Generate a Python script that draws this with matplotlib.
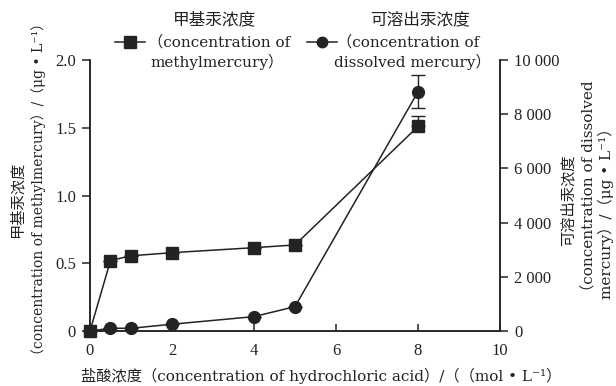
import matplotlib.pyplot as plt
from matplotlib.lines import Line2D
from matplotlib.ticker import FuncFormatter

plt.rcParams['font.family'] = ['DejaVu Serif', 'Noto Sans CJK SC', 'DejaVu Sans']

# HCl concentration (mol/L)
hcl = [0, 0.5, 1, 2, 4, 5, 8]
# methylmercury (ug/L), left axis
mehg = [0, 0.52, 0.555, 0.578, 0.615, 0.635, 1.51]
mehg_err_lo = [0, 0, 0, 0, 0, 0, 0]
mehg_err_hi = [0, 0, 0, 0, 0, 0, 0.08]
# dissolved mercury (ug/L), right axis
dhg = [0, 100, 100, 250, 530, 900, 8830]
dhg_err = [0, 0, 0, 0, 0, 0, 610]

xticks = [0, 2, 4, 6, 8, 10]
left_ticks = [0, 0.5, 1.0, 1.5, 2.0]
left_labels = ['0', '0.5', '1.0', '1.5', '2.0']
right_ticks = [0, 2000, 4000, 6000, 8000, 10000]

ink = '#232323'
fs = 11
tick_font = ['Liberation Serif', 'DejaVu Serif']

fig = plt.figure(figsize=(6.16, 3.86), dpi=100)
ax = fig.add_axes([0.1461, 0.1425, 0.6656, 0.702])
ax2 = ax.twinx()

ax2.errorbar(hcl, dhg, yerr=dhg_err, color=ink, lw=1.1, marker='o', ms=8.5,
             capsize=5, elinewidth=1.0, capthick=1.0, clip_on=False, zorder=2)
ax.errorbar(hcl, mehg, yerr=[mehg_err_lo, mehg_err_hi], color=ink, lw=1.1, marker='s', ms=8.5,
            capsize=5, elinewidth=1.0, capthick=1.0, clip_on=False, zorder=3)
ax.set_zorder(ax2.get_zorder() + 1)
ax.patch.set_visible(False)

ax.set_xlim(0, 10)
ax.set_ylim(0, 2.0)
ax2.set_ylim(0, 10000)

for a in (ax, ax2):
    a.spines['top'].set_visible(False)
    for s in a.spines.values():
        s.set_color(ink)
        s.set_linewidth(1.1)

ax.set_xticks(xticks)
ax.set_xticklabels([str(t) for t in xticks])
ax.set_yticks(left_ticks)
ax.set_yticklabels(left_labels)
ax2.set_yticks(right_ticks)
ax2.yaxis.set_major_formatter(FuncFormatter(lambda v, p: f'{int(v):,}'.replace(',', ' ')))

ax.tick_params(axis='x', direction='in', length=5, width=1.1, colors=ink, labelsize=12, pad=9)
ax.tick_params(axis='y', direction='out', length=6, width=1.1, colors=ink, labelsize=12, pad=4)
ax2.tick_params(axis='y', direction='out', length=6, width=1.1, colors=ink, labelsize=12, pad=4)
for lab in ax.get_xticklabels() + ax.get_yticklabels() + ax2.get_yticklabels():
    lab.set_family(tick_font)

# axis titles
fig.text(0.522, 0.025, '盐酸浓度（concentration of hydrochloric acid）/（（mol • L⁻¹）',
         ha='center', va='center', fontsize=fs, color=ink)
fig.text(0.028, 0.482, '甲基汞浓度', rotation=90, ha='center', va='center', fontsize=fs, color=ink)
fig.text(0.062, 0.51, '（concentration of methylmercury）/（μg • L⁻¹）', rotation=90,
         ha='center', va='center', fontsize=10, color=ink)
fig.text(0.922, 0.482, '可溶出汞浓度', rotation=90, ha='center', va='center', fontsize=fs, color=ink)
fig.text(0.955, 0.225, '（concentration of dissolved', rotation=90,
         ha='center', va='bottom', fontsize=fs, color=ink)
fig.text(0.983, 0.225, 'mercury）/（μg • L⁻¹）', rotation=90,
         ha='center', va='bottom', fontsize=fs, color=ink)

# legend drawn by hand
fig.text(0.348, 0.948, '甲基汞浓度', ha='center', va='center', fontsize=fs + 1, color=ink)
fig.add_artist(Line2D([0.187, 0.235], [0.891, 0.891], transform=fig.transFigure,
                      color=ink, lw=1.1))
fig.add_artist(Line2D([0.211], [0.891], transform=fig.transFigure,
                      color=ink, marker='s', ms=8))
fig.text(0.240, 0.891, '（concentration of', ha='left', va='center', fontsize=fs, color=ink)
fig.text(0.245, 0.839, 'methylmercury）', ha='left', va='center', fontsize=fs, color=ink)

fig.text(0.682, 0.948, '可溶出汞浓度', ha='center', va='center', fontsize=fs + 1, color=ink)
fig.add_artist(Line2D([0.498, 0.547], [0.891, 0.891], transform=fig.transFigure,
                      color=ink, lw=1.1))
fig.add_artist(Line2D([0.522], [0.891], transform=fig.transFigure,
                      color=ink, marker='o', ms=7.5))
fig.text(0.547, 0.891, '（concentration of', ha='left', va='center', fontsize=fs, color=ink)
fig.text(0.796, 0.839, 'dissolved mercury）', ha='right', va='center', fontsize=fs, color=ink)

fig.savefig('out.png', dpi=100)
